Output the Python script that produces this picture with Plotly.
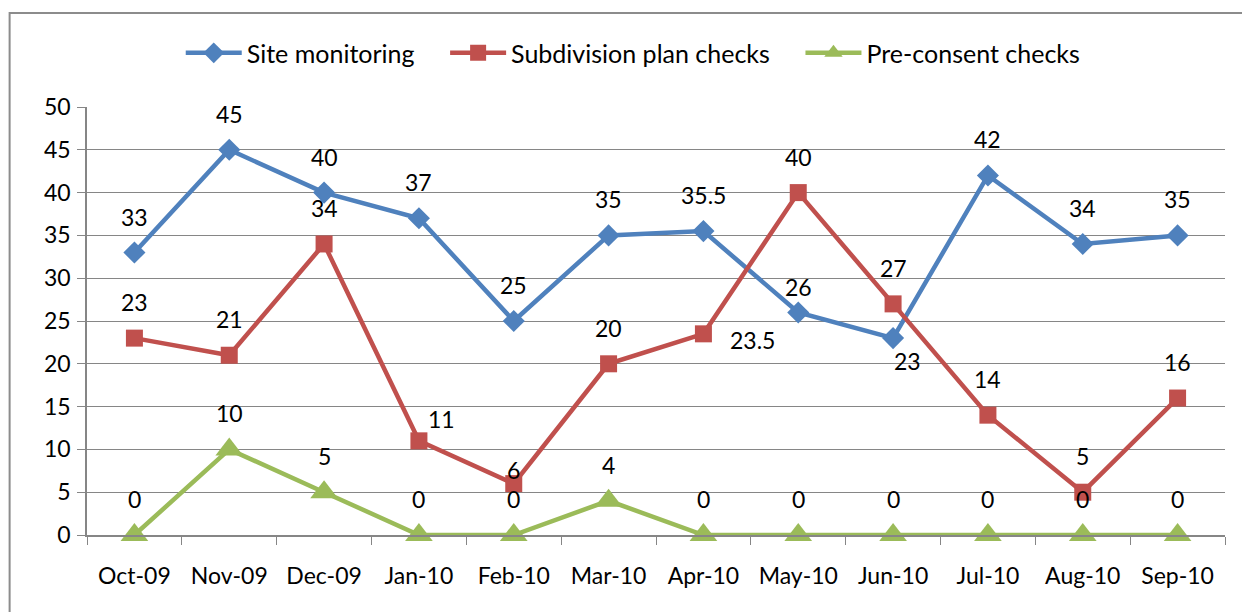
import plotly.graph_objects as go

months = ["Oct-09", "Nov-09", "Dec-09", "Jan-10", "Feb-10", "Mar-10",
          "Apr-10", "May-10", "Jun-10", "Jul-10", "Aug-10", "Sep-10"]
site_monitoring = [33, 45, 40, 37, 25, 35, 35.5, 26, 23, 42, 34, 35]
subdivision_checks = [23, 21, 34, 11, 6, 20, 23.5, 40, 27, 14, 5, 16]
preconsent_checks = [0, 10, 5, 0, 0, 4, 0, 0, 0, 0, 0, 0]

BLUE = "#4F81BD"
RED = "#C0504D"
GREEN = "#9BBB59"
FONT = "Lato, Calibri, 'Open Sans', sans-serif"
FS = 23

# label offsets in pixels (xshift, yshift) per point
site_off = [(0, 36)] * 7 + [(0, 25), (14, -23)] + [(0, 36)] * 3
sub_off = [(0, 36)] * 3 + [(23, 22), (0, 14), (0, 36), (49, -6)] + [(0, 36)] * 5
pre_off = [(0, 36)] * 12

GAP = "\u00a0" * 4
fig = go.Figure()
series = [
    ("Site monitoring" + GAP, site_monitoring, BLUE, "diamond", 17),
    ("Subdivision plan checks" + GAP, subdivision_checks, RED, "square", 17),
    ("Pre-consent checks", preconsent_checks, GREEN, "triangle-up", 24),
]
for name, vals, col, sym, sz in series:
    fig.add_trace(go.Scatter(
        x=months, y=vals, name=name, mode="lines+markers", cliponaxis=False,
        line=dict(color=col, width=4.5),
        marker=dict(symbol=sym, size=sz, color=col),
    ))

annotations = []
for vals, offs in [(site_monitoring, site_off), (subdivision_checks, sub_off),
                   (preconsent_checks, pre_off)]:
    for m, v, (dx, dy) in zip(months, vals, offs):
        annotations.append(dict(
            x=m, y=v, xref="x", yref="y", text=f"{v:g}", showarrow=False,
            xshift=dx, yshift=dy, font=dict(family=FONT, size=FS, color="black"),
        ))

fig.update_layout(
    width=1242, height=604,
    margin=dict(l=79, r=25, t=99, b=77, autoexpand=False),
    paper_bgcolor="white", plot_bgcolor="white",
    font=dict(family=FONT, size=FS, color="black"),
    showlegend=True,
    legend=dict(orientation="h", x=0.48, xanchor="center", y=1.126, yanchor="middle",
                font=dict(family=FONT, size=25), bgcolor="rgba(0,0,0,0)",
                itemwidth=56),
    annotations=annotations,
    shapes=[dict(type="rect", xref="paper", yref="paper",
                 x0=-0.068, x1=1.04, y0=-0.3, y1=1.2196,
                 line=dict(color="#8C8C8C", width=2), layer="below")],
)
fig.update_xaxes(
    type="category", range=[-0.5, 11.5], tickson="boundaries",
    ticks="outside", ticklen=8, tickcolor="#868686", tickwidth=1,
    showline=True, linecolor="#868686", linewidth=1.5,
    showgrid=False, tickfont=dict(family=FONT, size=FS, color="black"),
    ticklabelstandoff=20,
)
fig.update_yaxes(
    range=[0, 50], dtick=5, ticks="outside", ticklen=8, tickcolor="#868686",
    showline=True, linecolor="#868686", linewidth=1.5,
    showgrid=True, gridcolor="#868686", gridwidth=1.2,
    zeroline=False, tickfont=dict(family=FONT, size=FS, color="black"),
    ticklabelstandoff=2,
)

fig.write_html("out.html")
